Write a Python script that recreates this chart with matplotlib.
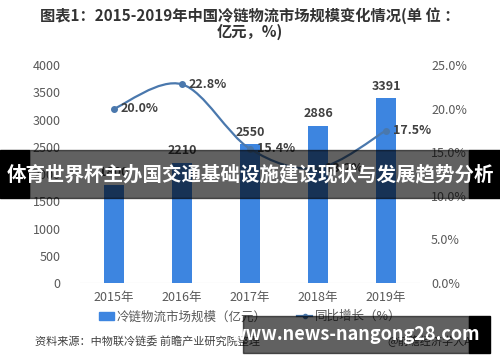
import numpy as np
import matplotlib.pyplot as plt
from matplotlib.path import Path
from matplotlib.patches import PathPatch, Rectangle
from matplotlib.lines import Line2D

plt.rcParams['font.family'] = ['Noto Sans CJK SC', 'DejaVu Sans']

years = ['2015年', '2016年', '2017年', '2018年', '2019年']
market_size = [1800, 2210, 2550, 2886, 3391]
growth = [20.0, 22.8, 15.4, 13.2, 17.5]

BAR_COLOR = '#3d85e0'
LINE_COLOR = '#4a78ad'
TEXT_COLOR = '#404040'

fig = plt.figure(figsize=(5.0, 3.62), dpi=100)
ax = fig.add_axes([0.16, 0.218, 0.68, 0.602])
ax2 = ax.twinx()

x = np.arange(len(years))
ax.bar(x, market_size, width=0.3, color=BAR_COLOR, zorder=2)
for xi, v in zip(x, market_size):
    ax.annotate(str(v), (xi, v), xytext=(0, 4), textcoords='offset points',
                ha='center', va='bottom', fontsize=9, color=TEXT_COLOR,
                fontweight='bold')

ax.set_xlim(-0.5, len(years) - 0.5)
ax.set_ylim(0, 4000)
ax.set_yticks(range(0, 4001, 500))
ax.set_xticks(x)
ax.set_xticklabels(years)
ax2.set_ylim(0, 25)
ax2.set_yticks(np.arange(0, 25.1, 5))
ax2.set_yticklabels(['%.1f%%' % t for t in np.arange(0, 25.1, 5)])

for a in (ax, ax2):
    for s in a.spines.values():
        s.set_visible(False)
    a.tick_params(length=0, labelsize=9, colors='#595959')
ax.tick_params(axis='y', pad=14)
ax.tick_params(axis='x', pad=6)
ax2.tick_params(axis='y', pad=8)
ax.axhline(0, color='#d9d9d9', lw=0.8, zorder=1)

# smoothed line (Bezier through the points, like Excel smoothing)
pts = np.column_stack([x, growth]).astype(float)
verts = [tuple(pts[0])]
codes = [Path.MOVETO]
n = len(pts)
for i in range(n - 1):
    p0 = pts[max(i - 1, 0)]
    p1 = pts[i]
    p2 = pts[i + 1]
    p3 = pts[min(i + 2, n - 1)]
    c1 = p1 + (p2 - p0) / 6.0
    c2 = p2 - (p3 - p1) / 6.0
    verts += [tuple(c1), tuple(c2), tuple(p2)]
    codes += [Path.CURVE4] * 3
ax2.add_patch(PathPatch(Path(verts, codes), fill=False, ec=LINE_COLOR, lw=1.6, zorder=3))
ax2.plot(x, growth, 'o', color=LINE_COLOR, ms=4, zorder=4)
for xi, g in zip(x, growth):
    ax2.annotate('%.1f%%' % g, (xi, g), xytext=(5, 0), textcoords='offset points',
                 ha='left', va='center', fontsize=9, color=TEXT_COLOR, fontweight='bold')

fig.text(0.5, 0.958, '图表1：2015-2019年中国冷链物流市场规模变化情况(单 位 ：',
         ha='center', va='center', fontsize=11, fontweight='bold', color='#333333')
fig.text(0.5, 0.912, '亿元，%)', ha='center', va='center', fontsize=11,
         fontweight='bold', color='#333333')

handles = [Rectangle((0, 0), 1, 1, color=BAR_COLOR),
           Line2D([], [], color=LINE_COLOR, marker='o', ms=3, lw=1.6)]
fig.legend(handles, ['冷链物流市场规模（亿元）', '同比增长（%）'],
           loc='center', bbox_to_anchor=(0.5, 0.125), ncol=2, frameon=False,
           fontsize=9, labelcolor='#595959', handlelength=1.2, handletextpad=0.2,
           columnspacing=2.5)

fig.text(0.07, 0.058, '资料来源：中物联冷链委 前瞻产业研究院整理', ha='left', va='center',
         fontsize=8, color=TEXT_COLOR)
fig.text(0.97, 0.058, '@前瞻经济学人APP', ha='right', va='center',
         fontsize=8, color=TEXT_COLOR)

# overlay banner
fig.patches.append(Rectangle((0, 0.453), 0.058, 0.133, transform=fig.transFigure,
                             color='black', zorder=10))
fig.patches.append(Rectangle((0.938, 0.453), 0.062, 0.133, transform=fig.transFigure,
                             color='black', zorder=10))
fig.patches.append(Rectangle((0.058, 0.453), 0.88, 0.133, transform=fig.transFigure,
                             color='black', alpha=0.62, zorder=11))
fig.text(0.5, 0.517, '体育世界杯主办国交通基础设施建设现状与发展趋势分析', ha='center',
         va='center', fontsize=14, fontweight='bold', color='white', zorder=12)

fig.patches.append(Rectangle((0.938, 0.025), 0.042, 0.102, transform=fig.transFigure,
                             color='black', zorder=10))
fig.patches.append(Rectangle((0.486, 0.025), 0.452, 0.102, transform=fig.transFigure,
                             color='black', alpha=0.62, zorder=11))
fig.text(0.71, 0.076, 'www.news-nangong28.com', ha='center', va='center',
         fontsize=13, fontweight='bold', color='white', zorder=12)

fig.savefig('out.png', dpi=100, facecolor='white')
